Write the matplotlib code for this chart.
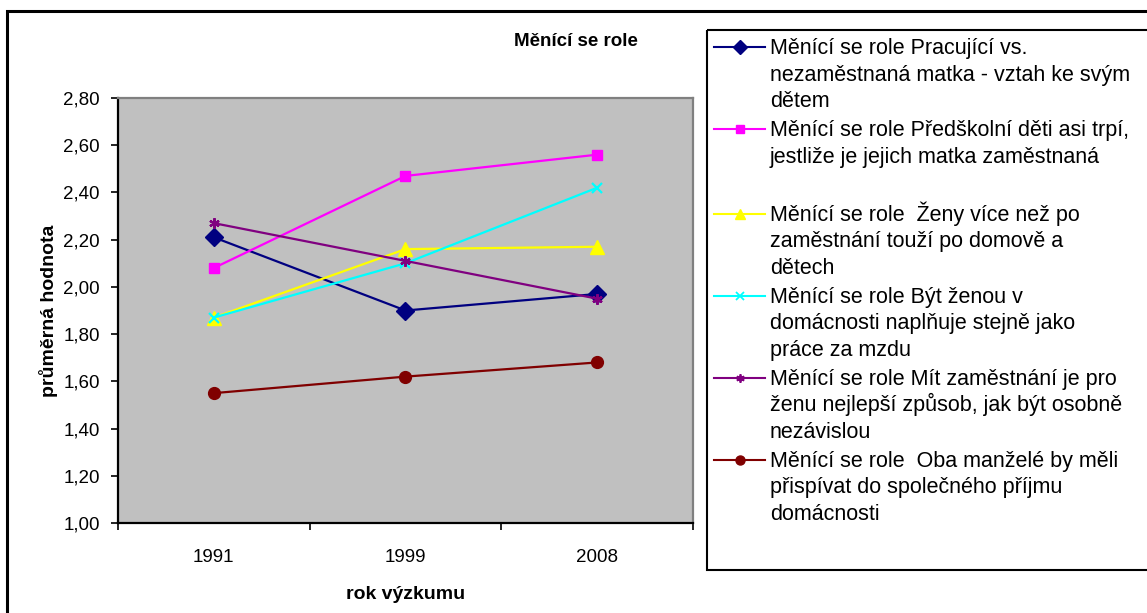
import matplotlib
matplotlib.use("Agg")
import matplotlib.pyplot as plt
import matplotlib.patches as mpatches
from matplotlib.ticker import FuncFormatter, FixedLocator

plt.rcParams["font.family"] = ["Liberation Sans", "DejaVu Sans"]

years = ["1991", "1999", "2008"]

pracujici = [2.21, 1.90, 1.97]
predskolni = [2.08, 2.47, 2.56]
zeny_vice = [1.87, 2.16, 2.17]
byt_zenou = [1.87, 2.10, 2.42]
mit_zamestnani = [2.27, 2.11, 1.95]
oba_manzele = [1.55, 1.62, 1.68]

labels = [
    ["Měnící se role Pracující vs.", "nezaměstnaná matka - vztah ke svým", "dětem"],
    ["Měnící se role Předškolní děti asi trpí,", "jestliže je jejich matka zaměstnaná", ""],
    ["Měnící se role  Ženy více než po", "zaměstnání touží po domově a", "dětech"],
    ["Měnící se role Být ženou v", "domácnosti naplňuje stejně jako", "práce za mzdu"],
    ["Měnící se role Mít zaměstnání je pro", "ženu nejlepší způsob, jak být osobně", "nezávislou"],
    ["Měnící se role  Oba manželé by měli", "přispívat do společného příjmu", "domácnosti"],
]

series = [pracujici, predskolni, zeny_vice, byt_zenou, mit_zamestnani, oba_manzele]
colors = ["#000080", "#FF00FF", "#FFFF00", "#00FFFF", "#800080", "#800000"]
markers = ["D", "s", "^", "x", (6, 2, 0), "o"]
msizes = [9.5, 7.5, 9.5, 7, 7.5, 8.5]
leg_msizes = [7, 6, 7.5, 5.5, 6, 6.5]

W, H = 1147, 613
fig = plt.figure(figsize=(W / 100, H / 100), dpi=100)

# outer frame of the chart object (right and bottom edges fall off the canvas)
fig.patches.append(mpatches.Rectangle(
    (7 / W, -0.1), 1.2, 1.1 - 11 / H, transform=fig.transFigure,
    fill=False, edgecolor="black", linewidth=2.2))

ax = fig.add_axes([118 / W, 1 - 523 / H, 575 / W, 425 / H])
ax.set_facecolor("#C0C0C0")
x = list(range(len(years)))
for vals, c, m, ms in zip(series, colors, markers, msizes):
    ax.plot(x, vals, color=c, marker=m, markersize=ms, linewidth=1.6,
            markeredgewidth=1.6 if m in ("x", (6, 2, 0)) else 1.0,
            markeredgecolor=c, markerfacecolor=c, clip_on=False)

ax.set_xlim(-0.5, len(years) - 0.5)
ax.set_ylim(1.0, 2.8)
ax.set_yticks([1.0 + 0.2 * i for i in range(10)])
ax.yaxis.set_major_formatter(FuncFormatter(lambda v, p: f"{v:.2f}".replace(".", ",")))
ax.xaxis.set_major_locator(FixedLocator([i - 0.5 for i in range(len(years) + 1)]))
ax.xaxis.set_major_formatter(FuncFormatter(lambda v, p: ""))
ax.set_xticks(x, minor=True)
ax.set_xticklabels(years, minor=True)
ax.tick_params(axis="x", which="minor", length=0, pad=19, labelsize=13.5)
ax.tick_params(axis="both", which="major", direction="out", length=5, width=1.2,
               labelsize=13.5, color="black")
ax.tick_params(axis="y", pad=8)
for s in ("left", "bottom"):
    ax.spines[s].set_color("black")
    ax.spines[s].set_linewidth(1.6)
for s in ("top", "right"):
    ax.spines[s].set_color("#808080")
    ax.spines[s].set_linewidth(1.6)

ax.set_ylabel("průměrná hodnota", fontsize=14, fontweight="bold", labelpad=4)
ax.set_xlabel("rok výzkumu", fontsize=14, fontweight="bold", labelpad=14)
fig.text(576 / W, 1 - 41 / H, "Měnící se role", fontsize=13.5, fontweight="bold",
         ha="center", va="center")

# legend box
LX, LT, LB = 707, 30, 570
lax = fig.add_axes([LX / W, 1 - LB / H, (W - LX) / W, (LB - LT) / H])
lax.set_xlim(LX, W)
lax.set_ylim(LB, LT)
lax.set_axis_off()
lax.add_patch(mpatches.Rectangle((LX, LT), W, LB - LT, fill=False,
                                 edgecolor="black", linewidth=1.5, clip_on=False))
row_y = [47, 129, 214, 296, 378, 460]
for yy, lines, c, m, ms in zip(row_y, labels, colors, markers, leg_msizes):
    lax.plot([714, 765], [yy, yy], color=c, linewidth=1.5)
    lax.plot([740], [yy], color=c, marker=m, markersize=ms,
             markeredgewidth=1.3 if m in ("x", (6, 2, 0)) else 1.0)
    for i, line in enumerate(lines):
        lax.text(770, yy + 7 + i * 26.5, line, fontsize=15.5, va="baseline", ha="left")

fig.savefig("out.png", dpi=100)
